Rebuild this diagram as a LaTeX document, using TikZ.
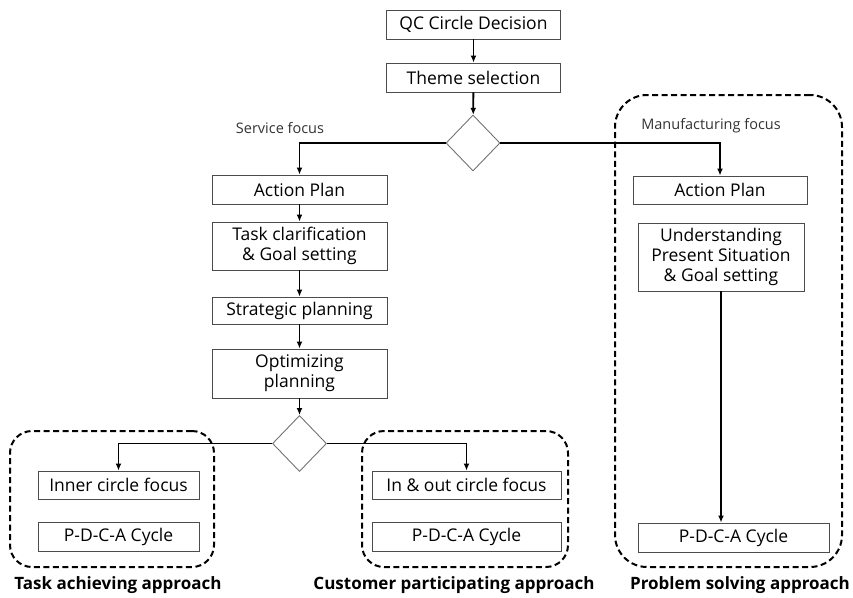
\documentclass[tikz,border=0pt]{standalone}
\usepackage{fontspec}
\setmainfont{Open Sans}
\usetikzlibrary{positioning}
\usetikzlibrary{shapes.geometric}
\usetikzlibrary{arrows.meta}

\begin{document}
\begin{tikzpicture}[x=1pt,y=-1pt]
		\tikzstyle{elem} = [rectangle, draw=black!70, line width=0.9pt, inner sep=0pt, align=center, font=\fontsize{17.5}{20}\selectfont]
		\tikzstyle{decision} = [diamond, draw=black!55, line width=0.9pt, minimum width=54pt, minimum height=56pt, inner sep=0pt]
		\tikzstyle{group} = [rectangle, draw=black, line width=2pt, dash pattern=on 6pt off 3.5pt, rounded corners=22pt]
		\tikzstyle{caption} = [font=\bfseries\fontsize{17}{20}\selectfont]
		\tikzstyle{focus} = [font=\fontsize{14.5}{17}\selectfont, text=black!80]
		\tikzstyle{flow} = [-{Latex[length=7pt,width=6pt]}, line width=1.8pt]

		\useasboundingbox (0,0) rectangle (853,597);

		% dashed groups
		\node (taskGroup) [group, minimum width=204pt, minimum height=136pt] at (112,499) {};
		\node (customerGroup) [group, minimum width=206pt, minimum height=136pt] at (465,499) {};
		\node (problemGroup) [group, rounded corners=32pt, minimum width=227pt, minimum height=472pt] at (728.5,331) {};

		\node (qcDecision) [elem, minimum width=174pt, minimum height=29pt] at (473.5,24.5) {QC Circle Decision};
		\node (themeSelection) [elem, minimum width=174pt, minimum height=29pt] at (473.5,77.5) {Theme selection};
		\node (focusSplit) [decision] at (473,143) {};
		\node (serviceFocus) [focus] at (280,128) {Service focus};
		\node (manufFocus) [focus] at (711,126) {Manufacturing focus};

		% service side
		\node (actionPlanS) [elem, minimum width=175pt, minimum height=29pt] at (299.5,189.5) {Action Plan};
		\node (taskClarif) [elem, minimum width=175pt, minimum height=48pt] at (299.5,246) {Task clarification\\ \& Goal setting};
		\node (strategic) [elem, minimum width=175pt, minimum height=27pt] at (299.5,310.5) {Strategic planning};
		\node (optimizing) [elem, minimum width=175pt, minimum height=49pt] at (299.5,373.5) {Optimizing\\ planning};
		\node (approachSplit) [decision] at (299.5,443.5) {};

		\node (innerFocus) [elem, minimum width=161pt, minimum height=28pt] at (118.5,485) {Inner circle focus};
		\node (pdcaTask) [elem, minimum width=161pt, minimum height=29pt] at (118.5,536.5) {P-D-C-A Cycle};
		\node (inOutFocus) [elem, minimum width=189pt, minimum height=28pt] at (466.5,485) {In \& out circle focus};
		\node (pdcaCustomer) [elem, minimum width=189pt, minimum height=29pt] at (466.5,536.5) {P-D-C-A Cycle};

		% manufacturing side
		\node (actionPlanM) [elem, minimum width=174pt, minimum height=28pt] at (720,190) {Action Plan};
		\node (understanding) [elem, minimum width=166pt, minimum height=68pt] at (721,257) {Understanding\\ Present Situation\\ \& Goal setting};
		\node (pdcaProblem) [elem, minimum width=191pt, minimum height=29pt] at (733.5,537.5) {P-D-C-A Cycle};

		\node (taskLabel) [caption] at (118,585) {Task achieving approach};
		\node (customerLabel) [caption] at (454,585) {Customer participating approach};
		\node (problemLabel) [caption] at (740,585) {Problem solving approach};

		\draw [flow] (qcDecision) -- (themeSelection);
		\draw [flow] (themeSelection) -- (focusSplit);
		\draw [flow] (focusSplit.west) -| (actionPlanS.north);
		\draw [flow] (focusSplit.east) -| (actionPlanM.north);
		\draw [flow] (actionPlanS) -- (taskClarif);
		\draw [flow] (taskClarif) -- (strategic);
		\draw [flow] (strategic) -- (optimizing);
		\draw [flow] (optimizing) -- (approachSplit);
		\draw [flow] (approachSplit.west) -| (innerFocus.north);
		\draw [flow] (approachSplit.east) -| (inOutFocus.north);
		\draw [flow] (understanding.south) -- (understanding.south |- pdcaProblem.north);
	\end{tikzpicture}
\end{document}
